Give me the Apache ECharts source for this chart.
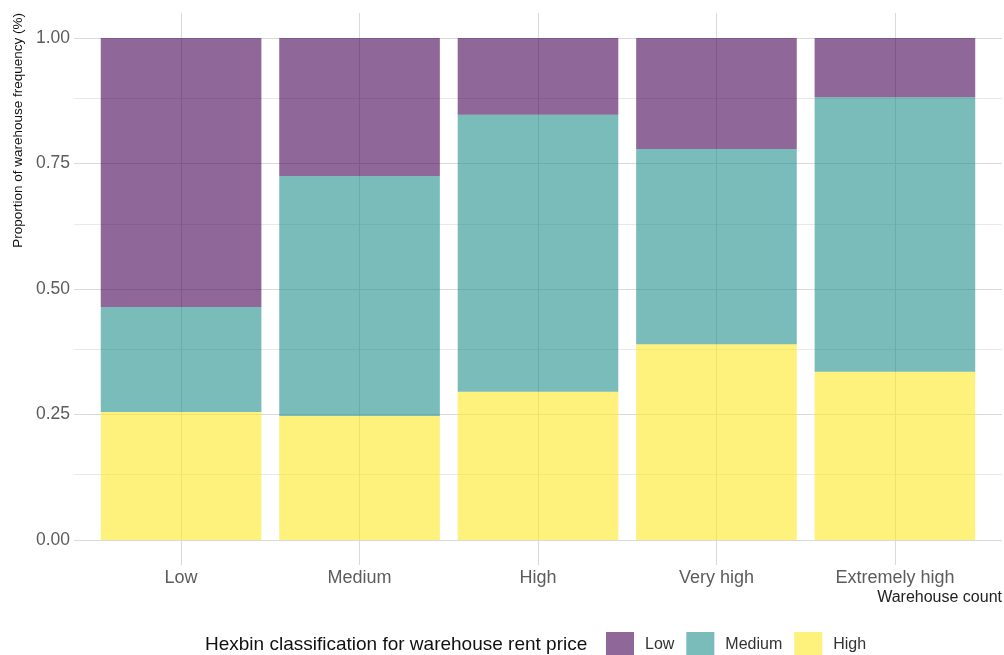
<!DOCTYPE html>
<html>
<head>
<meta charset="utf-8">
<script src="https://cdn.jsdelivr.net/npm/echarts@6/dist/echarts.min.js"></script>
<style>
  html, body { margin: 0; padding: 0; background: #ffffff; }
  #chart { width: 1004px; height: 655px; }
</style>
</head>
<body>
<div id="chart"></div>
<script>
// ---- data ----
const categories = ['Low', 'Medium', 'High', 'Very high', 'Extremely high'];
const seriesNames = ['Low', 'Medium', 'High']; // legend order
const lowValues    = [0.536, 0.275, 0.153, 0.221, 0.118];
const mediumValues = [0.209, 0.478, 0.552, 0.389, 0.547];
const highValues   = [0.255, 0.247, 0.295, 0.390, 0.335];
const yTickLabels  = [0, 0.25, 0.5, 0.75, 1];
const yMinorTicks  = [0.125, 0.375, 0.625, 0.875];

// ---- chart ----
const chart = echarts.init(document.getElementById('chart'), null, { renderer: 'canvas' });
const FONT = '"Liberation Sans", Arial, sans-serif';
const catPos = categories.map((c, i) => i + 1);

// panel: x from 74 to 1002 spans 5.2 category units (ggplot expansion 0.6)
const PANEL_L = 74, PANEL_R = 2, TOP = 13, BOTTOM = 90;
const band = (1004 - PANEL_L - PANEL_R) / 5.2;

const gridLineData = []
  .concat(yTickLabels.map(v => ({ yAxis: v, lineStyle: { color: '#dadada', width: 1.1, type: 'solid' } })))
  .concat(yMinorTicks.map(v => ({ yAxis: v, lineStyle: { color: '#e3e3e3', width: 0.8, type: 'solid' } })))
  .concat(catPos.map(v => ({ xAxis: v, lineStyle: { color: '#dadada', width: 1.1, type: 'solid' } })));

const barColors = { Low: '#440154', Medium: '#21908C', High: '#FDE725' };
const barData = { Low: lowValues, Medium: mediumValues, High: highValues };

const barSeries = ['High', 'Medium', 'Low'].map(name => ({
  name: name,
  type: 'bar',
  stack: 'total',
  xAxisIndex: 1,
  yAxisIndex: 1,
  barWidth: '90%',
  z: 3,
  itemStyle: { color: barColors[name], opacity: 0.6 },
  emphasis: { disabled: true },
  data: barData[name]
}));

const option = {
  animation: false,
  backgroundColor: '#ffffff',
  textStyle: { fontFamily: FONT },
  grid: [
    { left: PANEL_L, right: PANEL_R, top: TOP, bottom: BOTTOM, containLabel: false },
    { left: PANEL_L + 0.1 * band, right: PANEL_R + 0.1 * band, top: TOP, bottom: BOTTOM, containLabel: false }
  ],
  xAxis: [
    {
      type: 'value',
      gridIndex: 0,
      min: 0.4,
      max: 5.6,
      axisLine: { show: false },
      axisTick: { show: false },
      splitLine: { show: false },
      axisLabel: {
        customValues: catPos,
        formatter: v => categories[Math.round(v) - 1] || '',
        color: '#5c5c5c',
        fontSize: 18,
        fontFamily: FONT,
        margin: 4
      }
    },
    {
      type: 'category',
      gridIndex: 1,
      data: categories,
      boundaryGap: true,
      show: false
    }
  ],
  yAxis: [
    {
      type: 'value',
      gridIndex: 0,
      min: -0.05,
      max: 1.05,
      axisLine: { show: false },
      axisTick: { show: false },
      splitLine: { show: false },
      axisLabel: {
        customValues: yTickLabels,
        formatter: v => v.toFixed(2),
        color: '#5c5c5c',
        fontSize: 17.5,
        fontFamily: FONT,
        margin: 4
      }
    },
    {
      type: 'value',
      gridIndex: 1,
      min: -0.05,
      max: 1.05,
      show: false,
      splitLine: { show: false }
    }
  ],
  legend: {
    data: seriesNames,
    left: 606,
    top: 632,
    padding: 0,
    itemWidth: 28,
    itemHeight: 26,
    itemGap: 12,
    selectedMode: false,
    icon: 'rect',
    textStyle: { fontSize: 16, color: '#333', fontFamily: FONT, padding: [0, 0, 0, 6] }
  },
  graphic: [
    {
      type: 'text',
      x: 18, y: 13,
      rotation: Math.PI / 2,
      style: {
        text: 'Proportion of warehouse frequency (%)',
        textAlign: 'right',
        textVerticalAlign: 'middle',
        font: '13.5px ' + FONT,
        fill: '#111'
      }
    },
    {
      type: 'text',
      x: 1002, y: 598,
      style: {
        text: 'Warehouse count',
        textAlign: 'right',
        textVerticalAlign: 'middle',
        font: '16px ' + FONT,
        fill: '#222'
      }
    },
    {
      type: 'text',
      x: 205, y: 645,
      style: {
        text: 'Hexbin classification for warehouse rent price',
        textAlign: 'left',
        textVerticalAlign: 'middle',
        font: '19px ' + FONT,
        fill: '#111'
      }
    }
  ],
  series: [
    {
      name: '__grid',
      type: 'line',
      xAxisIndex: 0,
      yAxisIndex: 0,
      data: [],
      z: 1,
      silent: true,
      markLine: {
        z: 1,
        silent: true,
        symbol: ['none', 'none'],
        label: { show: false },
        animation: false,
        data: gridLineData
      }
    }
  ].concat(barSeries)
};

chart.setOption(option);
</script>
</body>
</html>
